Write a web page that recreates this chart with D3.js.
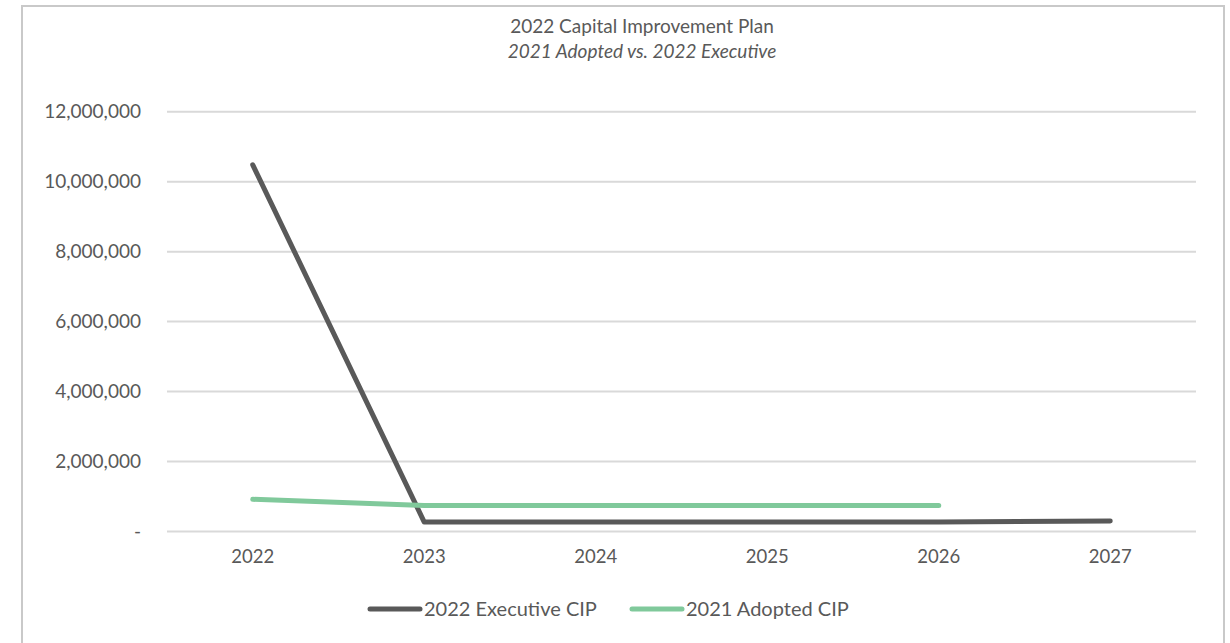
<html>
<head>
<meta charset="utf-8">
<style>
  body { margin: 0; background: #fff; }
  text { font-family: Lato, "Open Sans", sans-serif; fill: #595959; }
</style>
</head>
<body>
<script src="https://cdn.jsdelivr.net/npm/d3@7"></script>
<script>
var years = ["2022", "2023", "2024", "2025", "2026", "2027"];
var executiveCIP = [10480000, 270000, 270000, 270000, 270000, 300000];
var adoptedCIP = [920000, 740000, 740000, 740000, 740000, null];
var yTicks = [0, 2000000, 4000000, 6000000, 8000000, 10000000, 12000000];
var seriesNames = ["2022 Executive CIP", "2021 Adopted CIP"];
var seriesColors = ["#595959", "#80C99B"];

var width = 1230, height = 643;
var svg = d3.select("body").append("svg")
    .attr("width", width)
    .attr("height", height);

// chart frame
svg.append("rect")
    .attr("x", 22).attr("y", 6)
    .attr("width", 1202).attr("height", 660)
    .attr("fill", "none")
    .attr("stroke", "#C9C9C9")
    .attr("stroke-width", 2);

var plot = {left: 167, right: 1196, top: 111.7, bottom: 531.5};

var x = d3.scaleBand().domain(years).range([plot.left, plot.right]);
var y = d3.scaleLinear().domain([0, 12000000]).range([plot.bottom, plot.top]);

// gridlines
svg.append("g").selectAll("line")
    .data(yTicks)
    .join("line")
    .attr("x1", plot.left).attr("x2", plot.right)
    .attr("y1", d => y(d)).attr("y2", d => y(d))
    .attr("stroke", "#D9D9D9")
    .attr("stroke-width", 2);

// y axis labels
var fmt = d3.format(",");
svg.append("g").selectAll("text")
    .data(yTicks)
    .join("text")
    .attr("x", 141)
    .attr("y", d => y(d))
    .attr("dy", "0.35em")
    .attr("text-anchor", "end")
    .attr("font-size", 19)
    .text(d => d === 0 ? "-" : fmt(d));

// x axis labels
svg.append("g").selectAll("text")
    .data(years)
    .join("text")
    .attr("x", d => x(d) + x.bandwidth() / 2)
    .attr("y", 557)
    .attr("dy", "0.35em")
    .attr("text-anchor", "middle")
    .attr("font-size", 18.5)
    .text(d => d);

var line = d3.line()
    .defined(d => d != null)
    .x((d, i) => x(years[i]) + x.bandwidth() / 2)
    .y(d => y(d));

[executiveCIP, adoptedCIP].forEach(function(s, k) {
    svg.append("path")
        .attr("d", line(s))
        .attr("fill", "none")
        .attr("stroke", seriesColors[k])
        .attr("stroke-width", 5)
        .attr("stroke-linecap", "round")
        .attr("stroke-linejoin", "round");
});

// title
svg.append("text")
    .attr("x", 642).attr("y", 33)
    .attr("text-anchor", "middle")
    .attr("font-size", 19)
    .text("2022 Capital Improvement Plan");
svg.append("text")
    .attr("x", 642).attr("y", 58)
    .attr("text-anchor", "middle")
    .attr("font-size", 19)
    .attr("font-style", "italic")
    .text("2021 Adopted vs. 2022 Executive");

// legend
var legendX = [370, 632];
var lg = svg.append("g").selectAll("g")
    .data(seriesNames)
    .join("g")
    .attr("transform", (d, i) => "translate(" + legendX[i] + ",609)");
lg.append("line")
    .attr("x1", 0).attr("x2", 50)
    .attr("stroke", (d, i) => seriesColors[i])
    .attr("stroke-width", 5)
    .attr("stroke-linecap", "round");
lg.append("text")
    .attr("x", 54)
    .attr("dy", "0.35em")
    .attr("font-size", 20)
    .text(d => d);
</script>
</body>
</html>
